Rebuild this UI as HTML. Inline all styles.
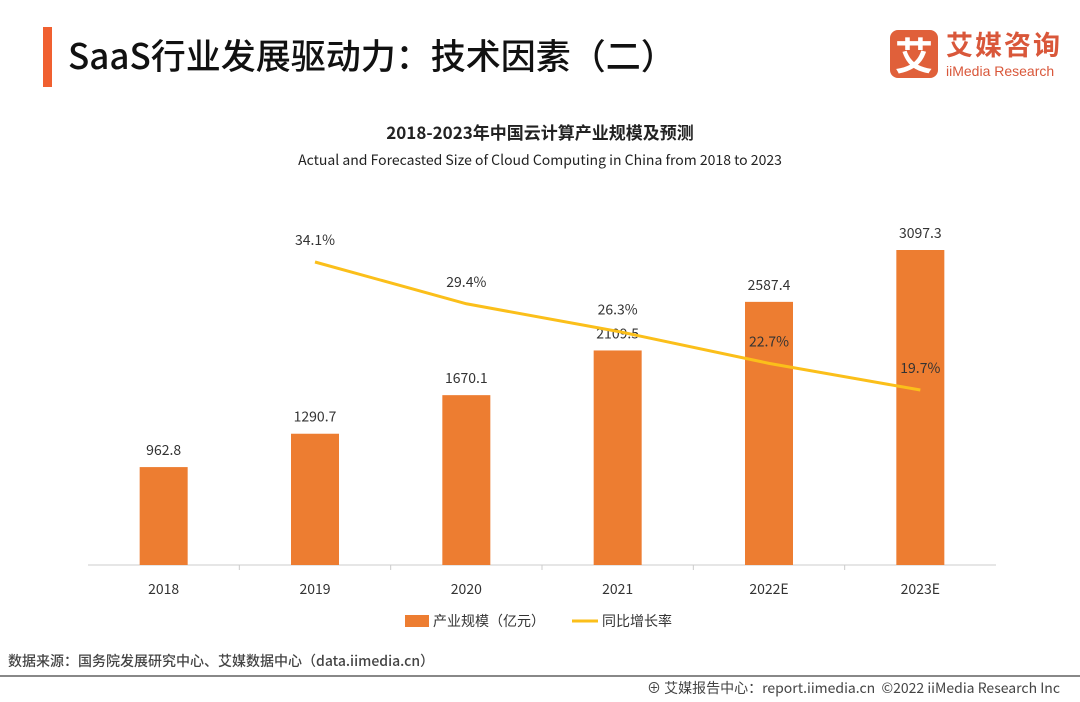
<!DOCTYPE html>
<html><head><meta charset="utf-8"><style>
body{margin:0;width:1080px;height:702px;background:#fff;overflow:hidden;font-family:"Liberation Sans","Noto Sans CJK SC",sans-serif;position:relative}
.abs{position:absolute}
</style></head><body>
<div class="abs" style="left:43px;top:27px;width:9px;height:60px;background:#f06030"></div>
<div class="abs" style="left:68px;top:30px;font-size:35px;color:#111;font-family:'Noto Sans CJK SC',sans-serif;font-weight:500;line-height:50px">SaaS行业发展驱动力：技术因素（二）</div>
<div class="abs" style="left:890px;top:30px;width:48px;height:48px;background:#e0603a;border-radius:8px;color:#fff;font-size:38px;font-weight:bold;text-align:center;line-height:48px;font-family:'Noto Sans CJK SC',sans-serif">艾</div>
<div class="abs" style="left:946px;top:26px;font-size:27px;color:#d9573a;font-weight:bold;font-family:'Noto Sans CJK SC',sans-serif;line-height:36px;letter-spacing:2px">艾媒咨询</div>
<div class="abs" style="left:946px;top:62px;font-size:14px;color:#d9573a;line-height:18px">iiMedia Research</div>
<div class="abs" style="left:0;width:1080px;text-align:center;top:119px;font-size:17px;font-weight:bold;color:#222;font-family:'Noto Sans CJK SC',sans-serif">2018-2023年中国云计算产业规模及预测</div>
<div class="abs" style="left:0;width:1080px;text-align:center;top:150px;font-size:14px;color:#222;font-family:'Noto Sans CJK SC',sans-serif">Actual and Forecasted Size of Cloud Computing in China from 2018 to 2023</div>
<svg class="abs" style="left:0;top:0" width="1080" height="702" id="chart"></svg>
<div class="abs" style="left:8px;top:651px;font-size:14px;color:#444;font-family:'Noto Sans CJK SC',sans-serif;font-weight:500">数据来源：国务院发展研究中心、艾媒数据中心（data.iimedia.cn）</div>
<div class="abs" style="left:0;top:675px;width:1080px;height:2px;background:#888"></div>
<div class="abs" style="right:20px;top:678px;font-size:14px;color:#444;font-family:'Noto Sans CJK SC',sans-serif">⊕ 艾媒报告中心：report.iimedia.cn &nbsp;©2022 iiMedia Research Inc</div>
<script>
const categories=["2018","2019","2020","2021","2022E","2023E"];
const sizeValues=[962.8,1290.7,1670.1,2109.5,2587.4,3097.3];
const growthValues=[null,34.1,29.4,26.3,22.7,19.7];
const svg=document.getElementById('chart');
const NS='http://www.w3.org/2000/svg';
const F='Noto Sans CJK SC, sans-serif';
const x0=88,x1=996,base=565;
const step=(x1-x0)/categories.length;
const xc=i=>x0+step*(i+0.5);
const yBar=v=>base-v*0.1017;
const yLine=v=>262+(34.1-v)*8.89;
function mk(t,a){const e=document.createElementNS(NS,t);for(const k in a)e.setAttribute(k,a[k]);svg.appendChild(e);return e;}
let ax=mk('line',{x1:x0,x2:x1,y1:base,y2:base,stroke:'#ccc','stroke-width':1});


categories.forEach((c,i)=>{
  const b=mk('rect',{x:xc(i)-24,y:yBar(sizeValues[i]),width:48,height:base-yBar(sizeValues[i]),fill:'#ed7d31'});
  
  
  const t=mk('text',{x:xc(i),y:yBar(sizeValues[i])-12,'text-anchor':'middle','font-size':14,fill:'#333','font-family':F});t.textContent=sizeValues[i].toFixed(1);
  
  
  const l=mk('text',{x:xc(i),y:594,'text-anchor':'middle','font-size':14,fill:'#333','font-family':F});l.textContent=c;
  
  
  if(i>0){const tk=mk('line',{x1:x0+step*i,x2:x0+step*i,y1:base,y2:base+5,stroke:'#ccc'});
  
  }
});
let pts=[];
growthValues.forEach((v,i)=>{if(v!=null)pts.push(xc(i)+','+yLine(v));});
const pl=mk('polyline',{points:pts.join(' '),fill:'none',stroke:'#fbbf1a','stroke-width':3});


growthValues.forEach((v,i)=>{if(v==null)return;
  const t=mk('text',{x:xc(i),y:yLine(v)-17,'text-anchor':'middle','font-size':14,fill:'#333','font-family':F});t.textContent=v.toFixed(1)+'%';
  
  
});
const lr=mk('rect',{x:405,y:615,width:24,height:12,fill:'#ed7d31'});


const lt=mk('text',{x:433,y:626,'font-size':14,fill:'#333','font-family':F});lt.textContent='产业规模（亿元）';


const ll=mk('line',{x1:572,x2:598,y1:621,y2:621,stroke:'#fbbf1a','stroke-width':3});


const lt2=mk('text',{x:602,y:626,'font-size':14,fill:'#333','font-family':F});lt2.textContent='同比增长率';


</script>
</body></html>
